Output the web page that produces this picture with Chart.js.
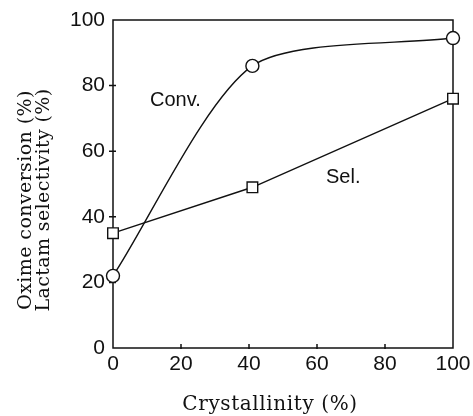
<!DOCTYPE html>
<html>
<head>
<meta charset="utf-8">
<script src="https://cdn.jsdelivr.net/npm/chart.js@4/dist/chart.umd.min.js"></script>
<style>
  html, body { margin: 0; padding: 0; background: #fff; }
  #wrap { width: 473px; height: 416px; }
</style>
</head>
<body>
<div id="wrap"><canvas id="crystChart"></canvas></div>
<script>
// data
const crystallinity = [0, 41, 100];
const conversion = [22, 86, 94.5];
const selectivity = [35, 49, 76];
const axisTicks = [20, 40, 60, 80];

const INK = "#111";
const SANS = "'Liberation Sans', Arial, sans-serif";
const SERIF = "'DejaVu Serif', serif";

const toPoints = (ys) => crystallinity.map((x, i) => ({ x, y: ys[i] }));

// box frame, small tick marks and the free text labels
const decorations = {
  id: "decorations",
  beforeDatasetsDraw(chart) {
    const { ctx, chartArea: a, scales } = chart;
    ctx.save();
    ctx.strokeStyle = INK;
    ctx.lineWidth = 1.5;
    ctx.strokeRect(a.left, a.top, a.right - a.left, a.bottom - a.top);
    ctx.beginPath();
    axisTicks.forEach((v) => {
      const py = scales.y.getPixelForValue(v);
      ctx.moveTo(a.left - 4, py);
      ctx.lineTo(a.left + 3, py);
      const px = scales.x.getPixelForValue(v);
      ctx.moveTo(px, a.bottom + 1);
      ctx.lineTo(px, a.bottom - 4);
    });
    ctx.stroke();
    ctx.restore();
  },
  afterDraw(chart) {
    const { ctx } = chart;
    ctx.save();
    ctx.fillStyle = INK;
    ctx.textBaseline = "middle";
    ctx.font = "20px " + SANS;
    ctx.textAlign = "left";
    ctx.fillText("Conv.", 150, 100);
    ctx.fillText("Sel.", 326, 177);

    ctx.font = "20px " + SERIF;
    ctx.textAlign = "center";
    ctx.letterSpacing = "0.6px";
    ctx.fillText("Crystallinity (%)", 270, 405);

    ctx.font = "19px " + SERIF;
    ctx.letterSpacing = "0.4px";
    ctx.translate(0, 200);
    ctx.rotate(-Math.PI / 2);
    ctx.fillText("Oxime conversion (%)", 0, 26);
    ctx.fillText("Lactam selectivity (%)", 0, 44);
    ctx.restore();
  },
};

const data = {
  datasets: [
    {
      label: "Conv.",
      data: toPoints(conversion),
      tension: 0.25,
      pointStyle: "circle",
      pointRadius: 6.5,
    },
    {
      label: "Sel.",
      data: toPoints(selectivity),
      tension: 0,
      pointStyle: "rect",
      pointRadius: 7.5,
    },
  ],
};

const options = {
  responsive: true,
  maintainAspectRatio: false,
  animation: false,
  layout: { padding: { top: 20, right: 20, left: 0, bottom: 0 } },
  clip: false,
  elements: {
    line: { borderColor: INK, borderWidth: 1.4 },
    point: {
      borderColor: INK,
      backgroundColor: "#fff",
      borderWidth: 1.4,
    },
  },
  plugins: {
    legend: { display: false },
    tooltip: { enabled: false },
  },
  scales: {
    x: {
      type: "linear",
      min: 0,
      max: 100,
      border: { display: false },
      grid: { display: false, drawTicks: false },
      ticks: {
        stepSize: 20,
        padding: 4,
        color: INK,
        font: { family: SANS, size: 21 },
      },
      afterFit: (scale) => {
        scale.height = 68;
        scale.paddingLeft = 0;
        scale.paddingRight = 0;
      },
    },
    y: {
      min: 0,
      max: 100,
      border: { display: false },
      grid: { display: false, drawTicks: false },
      ticks: {
        stepSize: 20,
        padding: 8,
        color: INK,
        font: { family: SANS, size: 21 },
      },
      afterFit: (scale) => {
        scale.width = 113;
        scale.paddingTop = 0;
        scale.paddingBottom = 0;
      },
    },
  },
};

new Chart("crystChart", { type: "line", data, options, plugins: [decorations] });
</script>
</body>
</html>
